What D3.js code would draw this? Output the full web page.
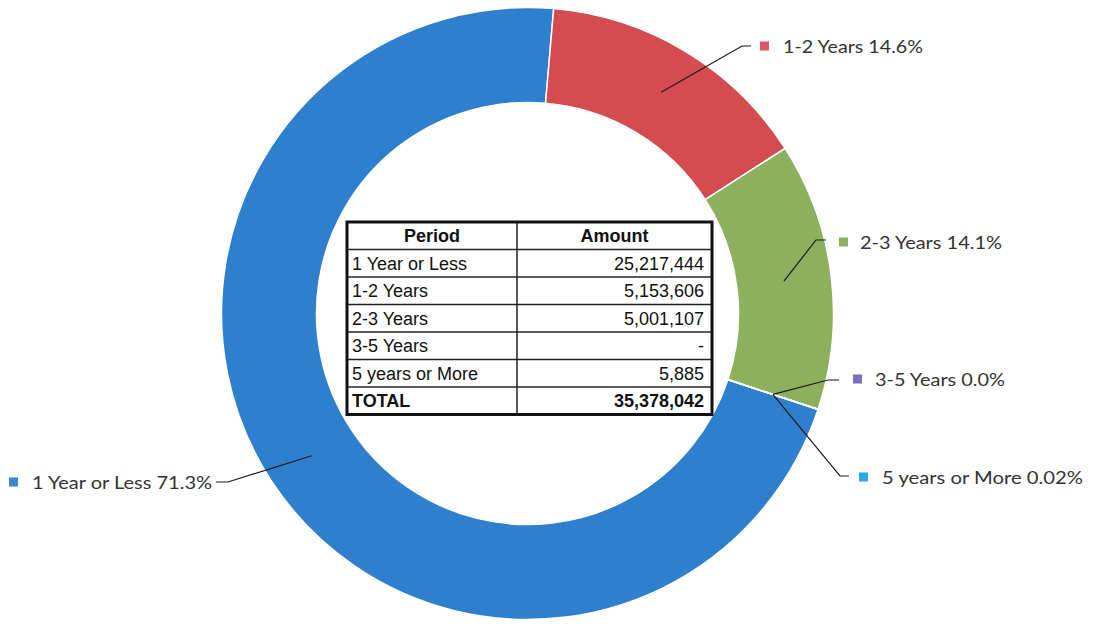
<!DOCTYPE html>
<html>
<head>
<meta charset="utf-8">
<script src="https://cdn.jsdelivr.net/npm/d3@7"></script>
<style>
  body { margin: 0; background: #fff; }
  svg { display: block; }
</style>
</head>
<body>
<div id="chart"></div>
<script>
// data, in the order the slices are drawn
const periods = ["1 Year or Less", "1-2 Years", "2-3 Years", "3-5 Years", "5 years or More"];
const amounts = [25217444, 5153606, 5001107, 0, 5885];
const pctLabels = ["71.3%", "14.6%", "14.1%", "0.0%", "0.02%"];
const legendNames = ["1 Year or Less", "1-2 Years", "2-3 Years", "3-5 Years", "5 years or More"];
const tableAmounts = ["25,217,444", "5,153,606", "5,001,107", "-", "5,885"];
const totalLabel = "TOTAL";
const totalAmount = "35,378,042";

const sliceColors = ["#2f7fcf", "#d44c4f", "#8db05f", "#7a6fbf", "#2aa8e2"];
const markerColors = ["#3a86d2", "#e25565", "#8db05f", "#7a6fbf", "#2aa8e2"];

const width = 1093, height = 626;
const cx = 527.5, cy = 313.5;
const outerR = 306, innerR = 211;
const startDeg = 108.3;

// label layout: elbow point, end point of leader, marker x, text x, text width
const labelLayout = [
    { elbow: [228, 482], end: [216, 482], mx: 9, tx: 32, tw: 180, y: 482 },
    { elbow: [742, 46], end: [751, 46], mx: 760, tx: 783, tw: 140, y: 46 },
    { elbow: [816, 240], end: [826, 240], mx: 839, tx: 860, tw: 142, y: 242 },
    { elbow: [828, 380], end: [839, 380], mx: 853, tx: 875, tw: 130, y: 379 },
    { elbow: [840, 476], end: [849, 476], mx: 859, tx: 882, tw: 201, y: 477 }
];

const svg = d3.select("#chart")
    .append("svg")
    .attr("width", width)
    .attr("height", height);

const g = svg.append("g")
    .attr("transform", `translate(${cx},${cy})`);

const pie = d3.pie()
    .sort(null)
    .value(d => d)
    .startAngle(startDeg * Math.PI / 180)
    .endAngle(startDeg * Math.PI / 180 + 2 * Math.PI);

const arc = d3.arc()
    .innerRadius(innerR)
    .outerRadius(outerR);

const midArc = d3.arc()
    .innerRadius((innerR + outerR) / 2)
    .outerRadius((innerR + outerR) / 2);

const arcs = pie(amounts);

g.selectAll("path.slice")
    .data(arcs)
    .enter()
    .append("path")
    .attr("class", "slice")
    .attr("d", arc)
    .style("fill", (d, i) => sliceColors[i])
    .style("stroke", "#fff")
    .style("stroke-width", 1.5);

// leader lines
const line = d3.line();
svg.selectAll("path.leader")
    .data(arcs)
    .enter()
    .append("path")
    .attr("class", "leader")
    .attr("d", (d, i) => {
        const c = midArc.centroid(d);
        const L = labelLayout[i];
        return line([[cx + c[0], cy + c[1]], L.elbow, L.end]);
    })
    .style("fill", "none")
    .style("stroke", "#1a1a1a")
    .style("stroke-width", 1.2);

// labels
const labels = svg.selectAll("g.label")
    .data(arcs)
    .enter()
    .append("g")
    .attr("class", "label");

labels.append("rect")
    .attr("x", (d, i) => labelLayout[i].mx)
    .attr("y", (d, i) => labelLayout[i].y - 4.5)
    .attr("width", 9)
    .attr("height", 9)
    .style("fill", (d, i) => markerColors[i]);

labels.append("text")
    .attr("x", (d, i) => labelLayout[i].tx)
    .attr("y", (d, i) => labelLayout[i].y + 6.5)
    .attr("textLength", (d, i) => labelLayout[i].tw)
    .attr("lengthAdjust", "spacingAndGlyphs")
    .style("font-family", "Lato, 'Open Sans', sans-serif")
    .style("font-size", "18px")
    .style("fill", "#333")
    .text((d, i) => `${legendNames[i]} ${pctLabels[i]}`);

// table in the hole
const tLeft = 347, tRight = 712, tDiv = 517, tTop = 222;
const rowH = 27.5;
const rows = periods.map((p, i) => ({ period: p, amount: tableAmounts[i], bold: false }));
rows.unshift({ period: "Period", amount: "Amount", header: true, bold: true });
rows.push({ period: totalLabel, amount: totalAmount, bold: true });

const y = d3.scaleLinear().domain([0, rows.length]).range([tTop, tTop + rows.length * rowH]);

const table = svg.append("g").attr("class", "table");

table.append("rect")
    .attr("x", tLeft)
    .attr("y", tTop)
    .attr("width", tRight - tLeft)
    .attr("height", rows.length * rowH)
    .style("fill", "#fff");

table.selectAll("line.row")
    .data(d3.range(1, rows.length))
    .enter()
    .append("line")
    .attr("x1", tLeft)
    .attr("x2", tRight)
    .attr("y1", d => y(d))
    .attr("y2", d => y(d))
    .style("stroke", "#222")
    .style("stroke-width", 1.5);

table.append("line")
    .attr("x1", tDiv)
    .attr("x2", tDiv)
    .attr("y1", tTop)
    .attr("y2", y(rows.length))
    .style("stroke", "#222")
    .style("stroke-width", 1.5);

table.append("rect")
    .attr("x", tLeft)
    .attr("y", tTop)
    .attr("width", tRight - tLeft)
    .attr("height", rows.length * rowH)
    .style("fill", "none")
    .style("stroke", "#111")
    .style("stroke-width", 3);

const cells = table.selectAll("g.row")
    .data(rows)
    .enter()
    .append("g")
    .attr("class", "row");

cells.append("text")
    .attr("x", d => d.header ? (tLeft + tDiv) / 2 : tLeft + 5)
    .attr("y", (d, i) => y(i) + rowH / 2 + 6.5)
    .attr("text-anchor", d => d.header ? "middle" : "start")
    .style("font-family", "'Liberation Sans', Arial, sans-serif")
    .style("font-size", "18px")
    .style("font-weight", d => d.bold ? "bold" : "normal")
    .style("fill", "#111")
    .text(d => d.period);

cells.append("text")
    .attr("x", d => d.header ? (tDiv + tRight) / 2 : tRight - 8)
    .attr("y", (d, i) => y(i) + rowH / 2 + 6.5)
    .attr("text-anchor", d => d.header ? "middle" : "end")
    .style("font-family", "'Liberation Sans', Arial, sans-serif")
    .style("font-size", "18px")
    .style("font-weight", d => d.bold ? "bold" : "normal")
    .style("fill", "#111")
    .text(d => d.amount);
</script>
</body>
</html>
